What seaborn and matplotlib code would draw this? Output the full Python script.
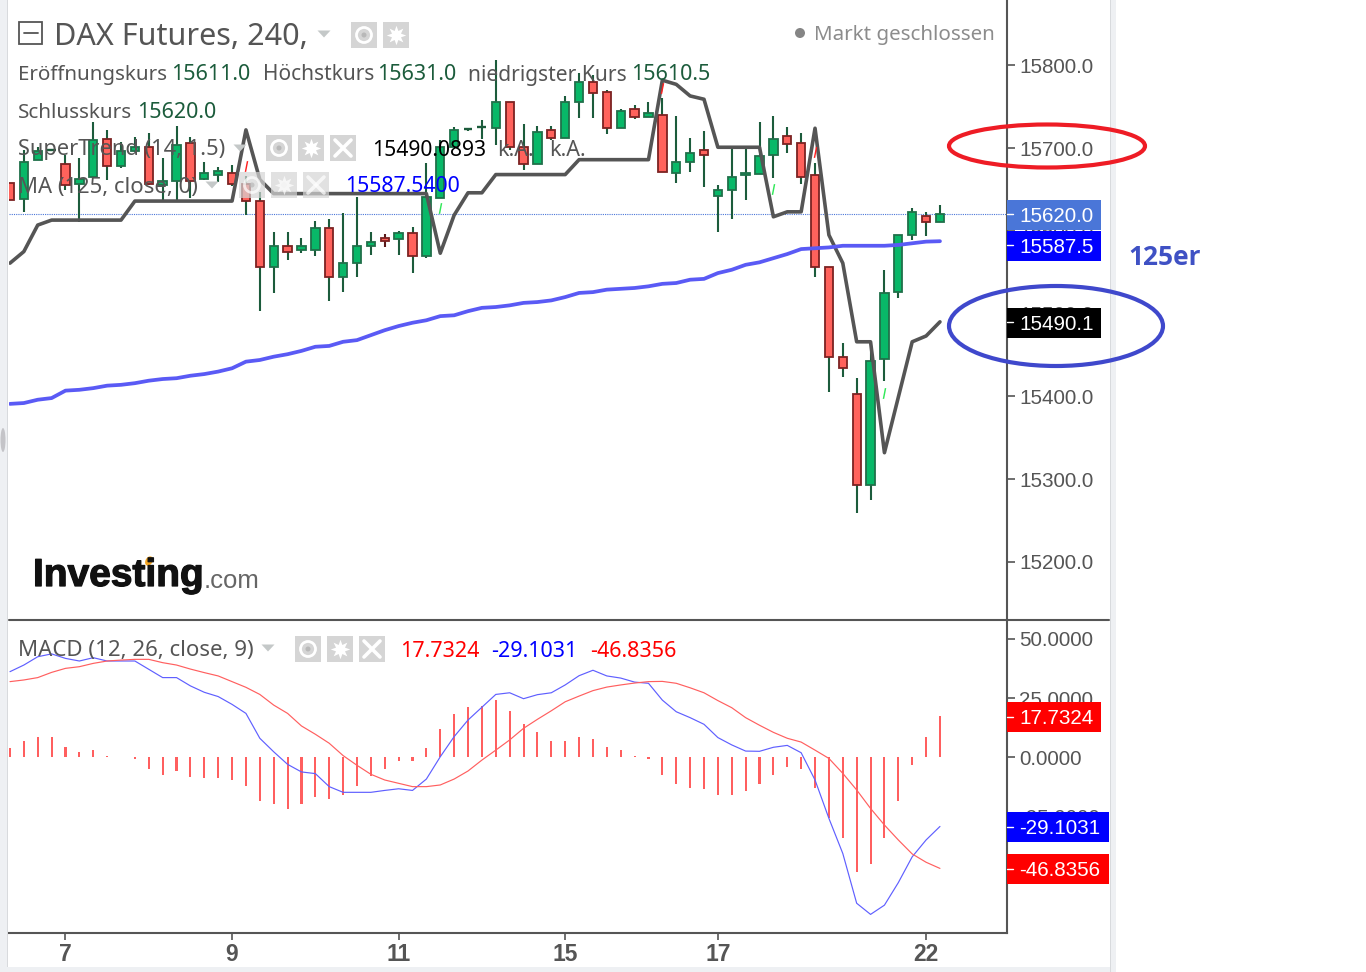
import numpy as np
import pandas as pd
import seaborn as sns
import matplotlib
matplotlib.use('Agg')
import matplotlib.pyplot as plt
import matplotlib.patheffects as pe
from matplotlib.patches import Rectangle, Ellipse, Polygon, Circle

# candles, 240 min bars
opens = [15658,15638,15686,15697,15681,15657,15665,15711,15678,15696,15701,15655,15660,15706,15663,15667,15670,
         15657,15636,15556,15582,15577,15577,15603,15544,15561,15582,15591,15590,15597,15570,15640,15701,15722,
         15724,15724,15756,15701,15681,15722,15712,15756,15780,15768,15724,15747,15738,15740,15670,15683,15698,
         15642,15649,15667,15669,15692,15715,15706,15667,15556,15448,15403,15293,15445,15526,15595,15618,15611]
highs = [15658,15698,15701,15699,15692,15688,15732,15722,15707,15713,15718,15688,15727,15713,15683,15677,15680,
         15666,15647,15599,15599,15591,15612,15614,15622,15641,15599,15596,15600,15605,15682,15710,15725,15724,
         15734,15806,15756,15729,15727,15727,15763,15791,15788,15770,15747,15752,15756,15760,15739,15712,15721,
         15655,15700,15700,15731,15739,15725,15718,15682,15556,15465,15422,15462,15553,15595,15628,15623,15631]
lows = [15637,15623,15686,15696,15649,15611,15665,15661,15676,15695,15655,15637,15636,15640,15661,15659,15654,
        15619,15503,15525,15565,15573,15570,15515,15526,15544,15571,15580,15571,15549,15567,15640,15701,15721,
        15711,15704,15698,15673,15681,15710,15712,15736,15736,15717,15724,15735,15738,15671,15658,15671,15653,
        15599,15614,15637,15669,15664,15694,15657,15544,15405,15423,15259,15275,15419,15519,15589,15594,15610.5]
closes = [15637,15683,15697,15698,15655,15663,15710,15678,15696,15701,15657,15660,15704,15660,15670,15672,15657,
          15636,15556,15582,15574,15582,15603,15544,15561,15582,15587,15588,15597,15570,15641,15701,15722,15723,
          15725,15756,15701,15681,15719,15712,15756,15780,15767,15724,15745,15738,15742,15671,15683,15694,15692,
          15649,15665,15670,15690,15711,15705,15665,15556,15448,15434,15293,15443,15525,15595,15623,15611,15620]

supertrend = [15561,15575,15607,15613,15613,15613,15613,15613,15613,15636,15636,15636,15636,15636,15636,15636,15636,
              15722,15662,15645,15645,15645,15645,15645,15645,15645,15645,15645,15645,15645,15645,15573,15619,15646,
              15646,15668,15668,15668,15668,15668,15668,15686,15686,15686,15686,15686,15686,15782,15777,15763,15759,
              15701,15701,15701,15701,15617,15623,15623,15724,15595,15561,15466,15466,15332,15399,15466,15473,15490.1]
ma125 = [15391,15392,15396,15398,15407,15408,15410,15413,15414,15416,15419,15421,15422,15425,15427,15430,15434,
         15442,15444,15448,15451,15455,15460,15461,15466,15468,15474,15480,15485,15489,15492,15497,15498,15503,
         15507,15508,15510,15513,15514,15516,15520,15525,15526,15529,15530,15531,15533,15536,15537,15541,15542,
         15549,15553,15559,15562,15567,15572,15578,15579,15580,15582,15582,15582,15582,15583,15585,15587,15587.5]

# trend change markers of the supertrend
sig_sell_idx = [17, 47, 58]
sig_sell_price = [15678, 15773, 15695]
sig_buy_idx = [31, 55, 63]
sig_buy_price = [15628, 15650, 15404]

macd_line = [36.2,39.0,42.5,43.7,41.8,40.7,42.1,40.7,40.7,40.7,37.2,33.7,33.7,30.2,27.5,25.7,22.4,18.6,8.1,2.4,
             -2.9,-6.1,-6.8,-12.3,-14.7,-14.7,-14.7,-13.9,-13.2,-13.9,-9.1,0.3,8.8,15.8,21.2,26.6,27.3,24.8,26.5,27.3,
             30.6,34.5,36.8,34.4,33.5,31.8,31.3,24.2,19.3,16.8,14.0,8.4,5.3,2.7,2.6,4.3,5.1,2.0,-9.5,-25.7,
             -40.5,-61.5,-66.2,-62.3,-52.8,-41.9,-34.8,-29.1]
signal_line = [32.0,32.7,33.7,35.9,37.6,38.3,39.7,40.7,41.1,41.4,41.4,40.0,39.0,37.3,35.8,34.4,32.0,29.6,26.6,22.1,
               18.6,13.3,9.8,6.0,0.8,-3.3,-7.1,-9.5,-10.9,-12.3,-12.3,-11.6,-9.1,-5.7,-1.1,3.1,7.4,12.3,16.1,19.7,
               23.5,25.9,28.2,29.7,30.6,31.4,32.0,32.1,31.3,29.4,27.3,24.0,21.0,16.8,13.6,10.6,8.1,6.5,3.1,-0.4,
               -6.7,-13.7,-21.5,-28.5,-34.8,-40.7,-44.2,-46.8]
macd_hist = [3.9,6.9,8.5,8.5,4.6,2.2,3.1,0.6,0.1,-0.6,-4.7,-7.3,-5.6,-8.1,-8.8,-8.8,-9.7,-11.9,-18.2,-19.8,
             -21.6,-19.8,-16.7,-17.5,-15.8,-11.9,-8.0,-4.7,-1.6,-1.6,3.9,11.9,18.2,21.2,21.9,24.2,19.6,14.0,10.9,6.9,
             6.9,8.5,7.8,4.6,3.0,0.6,-0.5,-7.3,-11.2,-12.7,-13.4,-15.8,-15.8,-14.3,-11.1,-7.3,-4.0,-4.7,-12.7,-25.4,
             -34.1,-48.3,-45.1,-34.1,-18.2,-3.3,8.5,17.7]

day_ticks = [4, 16, 28, 40, 51, 66]
day_labels = ['7', '9', '11', '15', '17', '22']
price_ticks = [15800, 15700, 15600, 15500, 15400, 15300, 15200]
macd_ticks = [50, 25, 0, -25, -50]

bars = pd.DataFrame({'bar': np.arange(len(opens)), 'open': opens, 'high': highs, 'low': lows, 'close': closes,
                     'supertrend': supertrend, 'ma': ma125, 'macd': macd_line, 'signal': signal_line, 'hist': macd_hist})

W, H = 1366, 972
GREY = '#555555'
DGREEN = '#1c5c3c'
ICON = '#d5d5d5'

sns.set_theme(style='white')
plt.rcParams['font.family'] = ['Noto Sans', 'DejaVu Sans']

fig = plt.figure(figsize=(W / 100, H / 100), dpi=100, facecolor='white')


def px_axes(x0, y0, x1, y1):
    return fig.add_axes([x0 / W, 1 - y1 / H, (x1 - x0) / W, (y1 - y0) / H])


ax = px_axes(9, 0, 1007, 620)
ax2 = px_axes(9, 620, 1007, 933)

xlim = (-0.07, 71.83)

# main panel
for i, b in bars.iterrows():
    up = b.close >= b.open
    small = abs(b.close - b.open) < 2.5
    wick = '#5a1a1a' if (i == 27) else DGREEN
    ax.vlines(b.bar, b.low, b.high, color=wick, lw=1.5, zorder=2)
    if small:
        ax.hlines(b.close, b.bar - 0.32, b.bar + 0.32, color=wick, lw=1.7, zorder=3)
        continue
    ax.bar(b.bar, abs(b.close - b.open), bottom=min(b.open, b.close), width=0.6,
           color='#08b868' if up else '#ff625c', edgecolor='#20704a' if up else '#7c2222', linewidth=1.3, zorder=3)

ax.axhline(closes[-1], color='#4a76d8', lw=0.8, ls=(0, (1, 1)), zorder=1)
sns.lineplot(data=bars, x='bar', y='supertrend', ax=ax, color=GREY, lw=2.6, estimator=None, zorder=4)
sns.lineplot(data=bars, x='bar', y='ma', ax=ax, color='#5a5af5', lw=2.7, estimator=None, zorder=4)
sns.scatterplot(x=sig_sell_idx, y=sig_sell_price, ax=ax, marker='$I$', color='#ff2020', s=60, linewidth=0, zorder=5)
sns.scatterplot(x=sig_buy_idx, y=sig_buy_price, ax=ax, marker='$I$', color='#30e858', s=60, linewidth=0, zorder=5)

ax.set_xlim(xlim)
ax.set_ylim(15129.9, 15878.9)
ax.set_xticks([])
ax.set_yticks(price_ticks, [f'{t:.1f}' for t in price_ticks])
ax.set_xlabel('')
ax.set_ylabel('')

# macd panel
sns.barplot(data=bars, x='bar', y='hist', ax=ax2, native_scale=True, color='#ff5f5f', width=0.15,
            saturation=1, errorbar=None, linewidth=0, zorder=2)
sns.lineplot(data=bars, x='bar', y='macd', ax=ax2, color='#5f5fff', lw=0.85, estimator=None, zorder=3)
sns.lineplot(data=bars, x='bar', y='signal', ax=ax2, color='#ff5f5f', lw=0.85, estimator=None, zorder=3)
ax2.set_xlim(xlim)
ax2.set_ylim(-74.05, 58.0)
ax2.set_xticks(day_ticks, day_labels)
ax2.set_yticks(macd_ticks, [f'{t:.4f}' for t in macd_ticks])
ax2.set_xlabel('')
ax2.set_ylabel('')

for a in (ax, ax2):
    a.patch.set_alpha(0)
    a.yaxis.tick_right()
    a.tick_params(axis='y', length=6, width=1.2, color=GREY, pad=2.6, left=False, right=True, labelsize=14.9,
                  labelcolor=GREY, labelfontfamily='Liberation Sans')
    for s in ('top', 'left'):
        a.spines[s].set_visible(False)
    a.spines['right'].set_color(GREY)
    a.spines['right'].set_linewidth(1.5)
    a.spines['bottom'].set_color(GREY)
    a.spines['bottom'].set_linewidth(1.5)
ax2.spines['top'].set_visible(False)
ax.spines['bottom'].set_visible(False)
ax2.tick_params(axis='x', length=5, width=1.2, color=GREY, bottom=True, pad=2, labelsize=16.5, labelcolor=GREY,
                labelfontfamily='Liberation Sans')
for t in ax2.get_xticklabels():
    t.set_fontweight('bold')

# overlay in pixel coordinates for legend text, icons, price tags and the hand drawn notes
ov = fig.add_axes([0, 0, 1, 1], zorder=10)
ov.set_xlim(0, W)
ov.set_ylim(H, 0)
ov.axis('off')
ov.patch.set_alpha(0)

# screenshot edges
for r in [(0, 0, 7, H, '#eef0f3'), (7, 0, 1.2, H, '#d8dadd'), (1110, 0, 6, H, '#eef0f3'),
          (1109.5, 0, 1.2, H, '#d8dadd'), (0, 967, 1110, 5, '#eef0f3')]:
    ov.add_patch(Rectangle((r[0], r[1]), r[2], r[3], color=r[4], lw=0))
ov.add_patch(Ellipse((3, 440), 5, 24, color='#c4c4c8', lw=0))
ov.plot([9, 1109], [620, 620], color=GREY, lw=1.5)


def label(x, y, s, size=15.5, color=GREY, **kw):
    kw.setdefault('family', ['Noto Sans', 'DejaVu Sans'])
    return ov.text(x, y + 3, s, fontsize=size, color=color, va='center', ha=kw.pop('ha', 'left'), **kw)


def triangle(x, y, w=13, h=7):
    ov.add_patch(Polygon([(x - w / 2, y - h / 2), (x + w / 2, y - h / 2), (x, y + h / 2)], color='#c4c8c8', lw=0))


def icon_box(x, y, kind, alpha=1.0):
    ov.add_patch(Rectangle((x, y), 26, 26, color=ICON, lw=0, alpha=alpha))
    cx, cy = x + 13, y + 13
    if kind == 'eye':
        ov.add_patch(Circle((cx, cy), 7.5, fc='none', ec='white', lw=2, alpha=alpha))
        ov.add_patch(Circle((cx, cy), 2.5, fc='#b8b8b8', lw=0, alpha=alpha))
    elif kind == 'gear':
        ov.plot([cx], [cy], marker=(8, 1, 0), ms=14, color='white', mew=0, alpha=alpha)
        ov.add_patch(Circle((cx, cy), 2.8, fc=ICON, lw=0, alpha=alpha))
    else:
        ov.plot([x + 5, x + 21], [y + 5, y + 21], color='white', lw=2.6, alpha=alpha)
        ov.plot([x + 5, x + 21], [y + 21, y + 5], color='white', lw=2.6, alpha=alpha)


# header
ov.add_patch(Rectangle((19, 22), 23, 22, fc='none', ec=GREY, lw=1.3))
ov.plot([24, 38], [33, 33], color=GREY, lw=1.3)
label(54, 34, 'DAX Futures, 240,', size=22)
triangle(324, 34)
icon_box(351, 22, 'eye')
icon_box(383, 22, 'gear')
ov.add_patch(Circle((800, 33), 5, fc='#858585', lw=0))
label(814, 32, 'Markt geschlossen', size=14.8, color='#8c8c8c')

# ohlc readout
VAL = '#1c5c3c'
label(18, 72, 'Eröffnungskurs', size=14.8)
label(171, 72, '15611.0', color=VAL)
label(263, 72, 'Höchstkurs', size=15)
label(377, 72, '15631.0', color=VAL)
label(468, 72, 'niedrigster Kurs', size=15.1)
label(631, 72, '15610.5', color=VAL)
label(18, 110, 'Schlusskurs', size=14.9)
label(137, 110, '15620.0', color=VAL)

# indicator legend
label(18, 147, 'SuperTrend (14, 1.5)', size=15.7)
triangle(240, 148)
icon_box(266, 135, 'eye')
icon_box(298, 135, 'gear')
icon_box(330, 135, 'x')
label(372, 147, '15490.0893', size=15.2, color='black')
label(497, 147, 'k.A.')
label(549, 147, 'k.A.')

label(18, 184, 'MA (125, close, 0)', size=15.9)
triangle(212, 185)
icon_box(239, 172, 'eye', alpha=0.7)
icon_box(271, 172, 'gear', alpha=0.7)
icon_box(303, 172, 'x', alpha=0.7)
label(345, 184, '15587.5400', size=15.3, color='#0000ff')

label(18, 647, 'MACD (12, 26, close, 9)', size=16)
triangle(268, 648)
icon_box(295, 636, 'eye')
icon_box(327, 636, 'gear')
icon_box(359, 636, 'x')
label(400, 648, '17.7324', color='#ff0000')
label(491, 648, '-29.1031', color='#0000ff')
label(590, 648, '-46.8356', color='#ff0000')

# logo
logo = label(33, 573, 'Investing', size=28, color='#111111', weight='bold', family=['Liberation Sans'])
logo.set_path_effects([pe.withStroke(linewidth=0.9, foreground='#111111')])
label(204, 578, '.com', size=18.5, color='#666666', family=['Liberation Sans'])
ov.add_patch(Ellipse((149, 561), 7, 10, angle=30, color='#f5a623', lw=0))

# price tags
tags = [(200, 1101, '#4a76d8', '15620.0'), (231, 1101, '#0000ff', '15587.5'), (308, 1101, '#000000', '15490.1'),
        (702, 1101, '#ff0000', '17.7324'), (812, 1109, '#0000ff', '-29.1031'), (854, 1109, '#ff0000', '-46.8356')]
for top, right, col, txt in tags:
    ov.add_patch(Rectangle((1007, top), right - 1007, 29.5, color=col, lw=0))
    ov.plot([1007, 1013], [top + 14.5, top + 14.5], color='white', lw=1)
    label(1019, top + 13, txt, size=14.9, color='white', family=['Liberation Sans'])

# hand drawn notes
ov.add_patch(Ellipse((1047, 146), 196, 43, fc='none', ec='#ee1c25', lw=3))
ov.add_patch(Ellipse((1056, 326), 214, 80, fc='none', ec='#3f48cc', lw=3))
label(1128, 254, '125er', size=19, color='#3f51c4', weight='bold', family=['Open Sans'])

fig.savefig('out.png', dpi=100)
